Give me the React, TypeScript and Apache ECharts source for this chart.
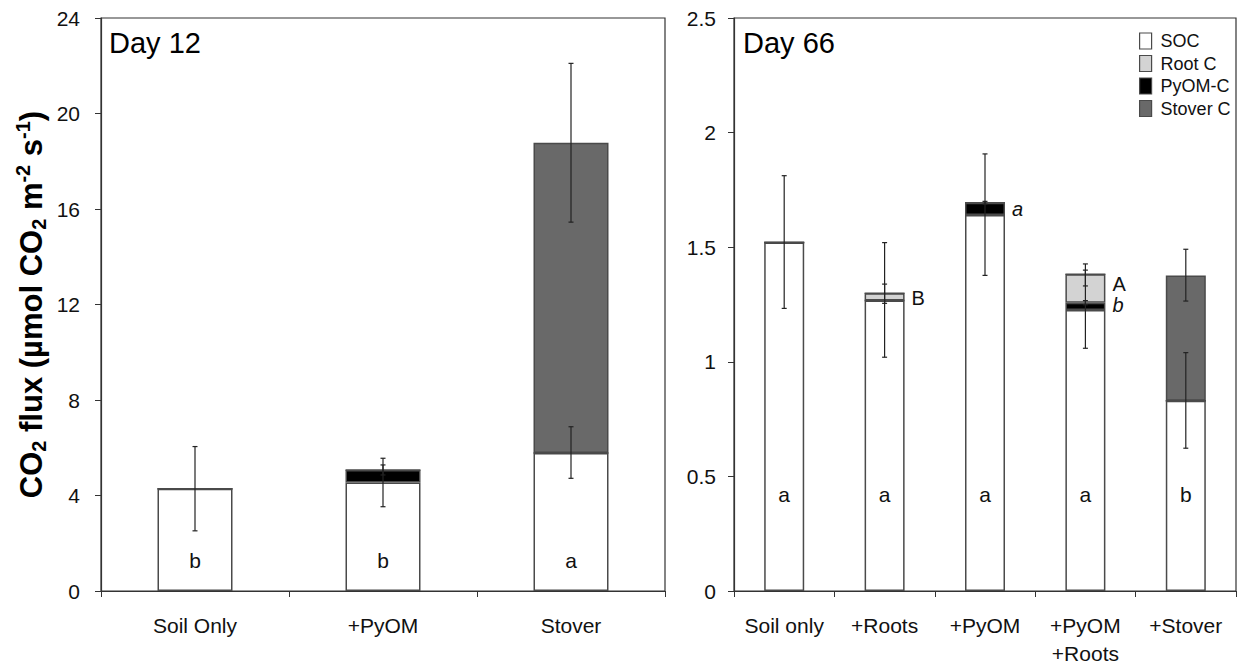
import React, { useEffect, useRef } from 'react';
import * as echarts from 'echarts';

const FONT = '"Liberation Sans", Arial, Helvetica, sans-serif';

// ---------- Day 12 (left panel) ----------
const categoriesL = ['Soil Only', '+PyOM', 'Stover'];
const socL = [4.28, 4.54, 5.78];
const pyomL = [0, 0.53, 0];
const stoverL = [0, 0, 13.0];
// [category index, low, high]
const errorsL = [
  [0, 2.52, 6.05],
  [1, 3.53, 5.56],
  [1, 4.86, 5.28],
  [2, 4.72, 6.88],
  [2, 15.45, 22.1],
];
const lettersL = ['b', 'b', 'a'];
const letterYL = 1.26;
const yTicksL = { min: 0, max: 24, interval: 4 };

// ---------- Day 66 (right panel) ----------
const categoriesR = ['Soil only', '+Roots', '+PyOM', '+PyOM\n+Roots', '+Stover'];
const socR = [1.52, 1.267, 1.64, 1.226, 0.83];
const pyomR = [0, 0, 0.054, 0.032, 0];
const rootR = [0, 0.032, 0, 0.124, 0];
const stoverR = [0, 0, 0, 0, 0.547];
const errorsR = [
  [0, 1.233, 1.812],
  [1, 1.02, 1.52],
  [1, 1.255, 1.339],
  [2, 1.377, 1.907],
  [2, 1.688, 1.7],
  [3, 1.059, 1.4],
  [3, 1.249, 1.267],
  [3, 1.331, 1.427],
  [4, 0.623, 1.04],
  [4, 1.265, 1.491],
];
const lettersR = ['a', 'a', 'a', 'a', 'b'];
const letterYR = 0.42;
// [category index, y value, text, italic]
const sideLettersR: [number, number, string, boolean][] = [
  [1, 1.28, 'B', false],
  [2, 1.667, 'a', true],
  [3, 1.339, 'A', false],
  [3, 1.25, 'b', true],
];
const yTicksR = { min: 0, max: 2.5, interval: 0.5 };

const legendNames = ['SOC', 'Root C', 'PyOM-C', 'Stover C'];
const COLORS: Record<string, string> = {
  SOC: '#ffffff',
  'Root C': '#d3d3d3',
  'PyOM-C': '#000000',
  'Stover C': '#696969',
};
const BORDER = '#4a4a4a';

export default function App() {
  const ref = useRef<HTMLDivElement>(null);
  useEffect(() => {
    if (!ref.current) return;
    const chart = echarts.init(ref.current, undefined, { renderer: 'svg' });

    const barSeries = (name: string, data: number[], gi: number, width: number) => ({
      type: 'bar',
      name,
      data,
      stack: 'g' + gi,
      xAxisIndex: gi,
      yAxisIndex: gi,
      barWidth: width,
      itemStyle: { color: COLORS[name], borderColor: BORDER, borderWidth: 1.5 },
      emphasis: { disabled: true },
      z: 2,
    });

    const errSeries = (data: number[][], gi: number) => ({
      type: 'custom',
      xAxisIndex: gi,
      yAxisIndex: gi,
      data,
      z: 5,
      silent: true,
      renderItem: (params: any, api: any) => {
        const x = api.value(0);
        const lo = api.value(1);
        const hi = api.value(2);
        const p1 = api.coord([x, lo]);
        const p2 = api.coord([x, hi]);
        const c = 2.5;
        const st = { stroke: '#222', lineWidth: 1.2 };
        return {
          type: 'group',
          children: [
            { type: 'line', shape: { x1: p1[0], y1: p1[1], x2: p2[0], y2: p2[1] }, style: st },
            { type: 'line', shape: { x1: p1[0] - c, y1: p1[1], x2: p1[0] + c, y2: p1[1] }, style: st },
            { type: 'line', shape: { x1: p2[0] - c, y1: p2[1], x2: p2[0] + c, y2: p2[1] }, style: st },
          ],
        };
      },
    });

    const letterSeries = (letters: string[], yv: number, gi: number) => ({
      type: 'custom',
      xAxisIndex: gi,
      yAxisIndex: gi,
      data: letters.map((_, i) => [i, yv]),
      z: 6,
      silent: true,
      renderItem: (params: any, api: any) => {
        const p = api.coord([api.value(0), api.value(1)]);
        return {
          type: 'text',
          x: p[0],
          y: p[1],
          style: {
            text: letters[params.dataIndex],
            fontSize: 21,
            fontFamily: FONT,
            fill: '#111',
            align: 'center',
            verticalAlign: 'middle',
          },
        };
      },
    });

    const sideSeries = {
      type: 'custom',
      xAxisIndex: 1,
      yAxisIndex: 1,
      data: sideLettersR.map((d) => [d[0], d[1]]),
      z: 6,
      silent: true,
      renderItem: (params: any, api: any) => {
        const p = api.coord([api.value(0), api.value(1)]);
        const d = sideLettersR[params.dataIndex];
        return {
          type: 'text',
          x: p[0] + 20 + 7,
          y: p[1],
          style: {
            text: d[2],
            fontSize: 20,
            fontStyle: d[3] ? 'italic' : 'normal',
            fontFamily: FONT,
            fill: '#111',
            align: 'left',
            verticalAlign: 'middle',
          },
        };
      },
    };

    const xAxisBase = {
      type: 'category',
      axisLine: { lineStyle: { color: '#333', width: 1.2 } },
      axisTick: { show: true, length: 6, lineStyle: { color: '#333' } },
      axisLabel: { interval: 0, fontSize: 21, fontFamily: FONT, color: '#111', margin: 20, lineHeight: 28 },
    };
    const yAxisBase = {
      type: 'value',
      splitLine: { show: false },
      axisLine: { show: true, lineStyle: { color: '#333', width: 1.2 } },
      axisTick: { show: true, length: 6, lineStyle: { color: '#333' } },
    };

    const option: any = {
      animation: false,
      backgroundColor: '#ffffff',
      grid: [
        { left: 101, top: 18, right: 572, bottom: 72, show: true, borderColor: '#333', borderWidth: 1.2, outerBoundsMode: 'none', containLabel: false },
        { left: 734, top: 18, right: 1, bottom: 72, show: true, borderColor: '#333', borderWidth: 1.2, outerBoundsMode: 'none', containLabel: false },
      ],
      xAxis: [
        { ...xAxisBase, gridIndex: 0, data: categoriesL },
        { ...xAxisBase, gridIndex: 1, data: categoriesR },
      ],
      yAxis: [
        {
          ...yAxisBase,
          gridIndex: 0,
          ...yTicksL,
          axisLabel: { fontSize: 21, fontFamily: FONT, color: '#111', margin: 21 },
          name: '{b|CO}{s|2}{b| flux (µmol CO}{s|2}{b| m}{p|-2}{b| s}{p|-1}{b|)}',
          nameLocation: 'middle',
          nameGap: 52,
          nameTextStyle: {
            rich: {
              b: { fontSize: 31, fontWeight: 'bold', fontFamily: FONT, color: '#000', lineHeight: 36 },
              s: { fontSize: 20, fontWeight: 'bold', fontFamily: FONT, color: '#000', lineHeight: 16, verticalAlign: 'bottom' },
              p: { fontSize: 20, fontWeight: 'bold', fontFamily: FONT, color: '#000', lineHeight: 16, verticalAlign: 'top' },
            },
          },
        },
        {
          ...yAxisBase,
          gridIndex: 1,
          ...yTicksR,
          axisLabel: { fontSize: 21, fontFamily: FONT, color: '#111', margin: 18 },
        },
      ],
      legend: {
        data: legendNames,
        orient: 'vertical',
        left: 1134,
        top: 27,
        itemWidth: 12,
        itemHeight: 16,
        itemGap: 4.5,
        icon: 'rect',
        selectedMode: false,
        itemStyle: { borderColor: BORDER, borderWidth: 1.2 },
        textStyle: { fontSize: 18, fontFamily: FONT, color: '#111', padding: [0, 0, 0, 4] },
      },
      graphic: [
        {
          type: 'text',
          x: 109,
          y: 43,
          style: { text: 'Day 12', fontSize: 29, fontFamily: FONT, fill: '#000', align: 'left', verticalAlign: 'middle' },
        },
        {
          type: 'text',
          x: 743,
          y: 43,
          style: { text: 'Day 66', fontSize: 29, fontFamily: FONT, fill: '#000', align: 'left', verticalAlign: 'middle' },
        },
      ],
      series: [
        barSeries('SOC', socL, 0, 75),
        barSeries('PyOM-C', pyomL, 0, 75),
        barSeries('Stover C', stoverL, 0, 75),
        barSeries('SOC', socR, 1, 40),
        barSeries('PyOM-C', pyomR, 1, 40),
        barSeries('Root C', rootR, 1, 40),
        barSeries('Stover C', stoverR, 1, 40),
        errSeries(errorsL, 0),
        errSeries(errorsR, 1),
        letterSeries(lettersL, letterYL, 0),
        letterSeries(lettersR, letterYR, 1),
        sideSeries,
      ],
    };
    chart.setOption(option);
    return () => chart.dispose();
  }, []);
  return (
    <div
      ref={ref}
      style={{ position: 'absolute', left: 0, top: 0, width: 1237, height: 663, background: '#fff' }}
    />
  );
}
